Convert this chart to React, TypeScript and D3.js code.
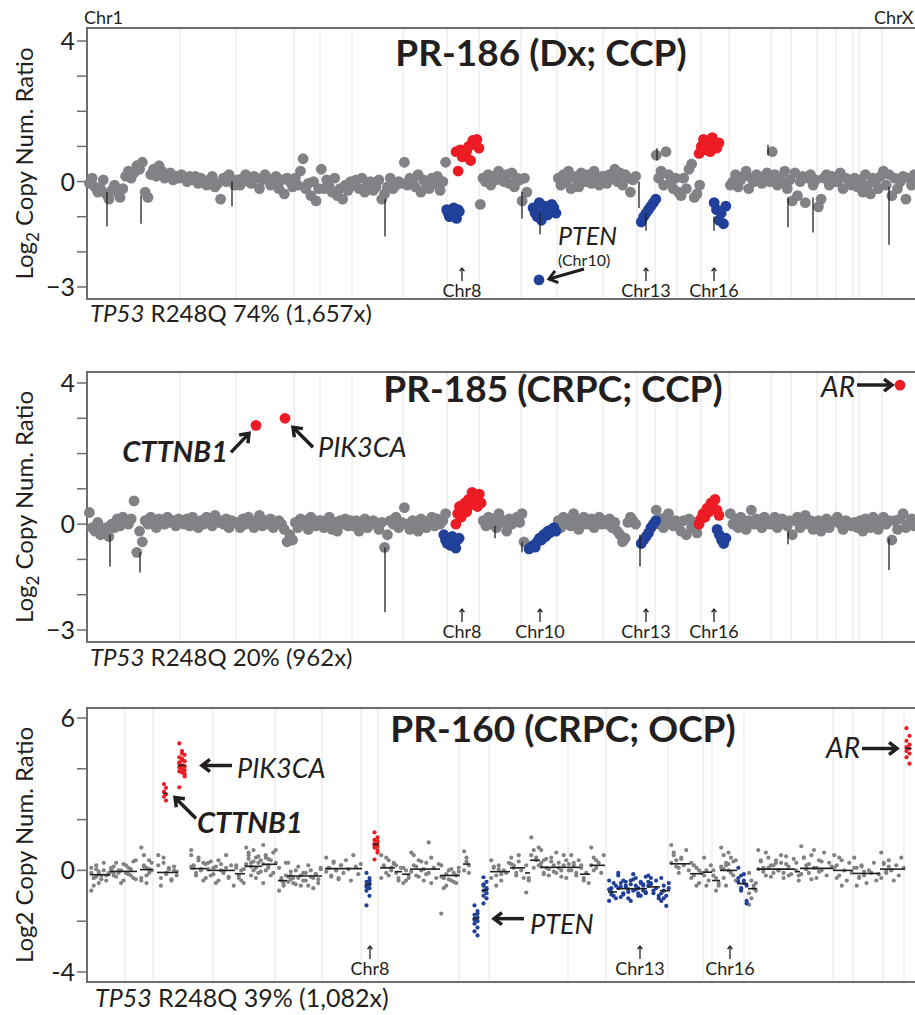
import React from "react";
import * as d3 from "d3";

// probe runs: [startIndex, endIndex, call, log2 values]
type Run = [number, number, string, number[]];
// segments: [startIndex, endIndex, segment mean, call, log2 values]
type Seg = [number, number, number, string, number[]];

// chromosome boundaries in probe-order units
const ccpBounds = [0, 93, 149, 207, 233, 265, 316, 360, 392, 434, 470, 516, 550, 568, 590, 614, 642, 684, 704, 730, 749, 766, 772, 795, 840];
const ocpBounds = [0, 38, 66, 126, 188, 235, 274, 291, 372, 402, 481, 519, 581, 616, 625, 657, 746, 766, 796, 817, 840];

const ccpTicks = [-3, -2, -1, 0, 1, 2, 3, 4];
const ccpTickLabels: [number, string][] = [[4, "4"], [0, "0"], [-3, "\u22123"]];
const ocpTicks = [-4, -2, 0, 2, 4, 6];
const ocpTickLabels: [number, string][] = [[6, "6"], [0, "0"], [-4, "-4"]];

const titles = ["PR-186 (Dx; CCP)", "PR-185 (CRPC; CCP)", "PR-160 (CRPC; OCP)"];
const tp53Text = ["R248Q 74% (1,657x)", "R248Q 20% (962x)", "R248Q 39% (1,082x)"];

const pr186ChrLabels: [string, number][] = [["Chr8", 375], ["Chr13", 559], ["Chr16", 627]];
const pr185ChrLabels: [string, number][] = [["Chr8", 375], ["Chr10", 453], ["Chr13", 559], ["Chr16", 627]];
const pr160ChrLabels: [string, number][] = [["Chr8", 283], ["Chr13", 553], ["Chr16", 643]];

const pr186Runs: Run[] = [
  [1, 93, "n", [-0.05, 0.1, -0.15, -0.3, -0.2, 0.05, -0.35, -0.5, -0.25, -0.1, -0.3, -0.45, -0.2, 0.15, 0.3, 0.1, 0.25, 0.45, 0.35, 0.55, -0.3, -0.45, 0.2, 0.35, 0.15, 0.45, 0.3, 0.1, 0.2, 0.25, 0.05, 0.15, 0.1]],
  [93, 149, "n", [0.2, 0.1, 0.0, 0.15, 0.05, 0.15, -0.05, 0.1, 0.0, -0.1, 0.05, 0.15, -0.15, -0.05, -0.5, 0.1, 0.0, 0.2, 0.05, -0.1]],
  [149, 207, "n", [0.05, -0.1, 0.1, 0.2, 0.0, -0.05, 0.15, 0.1, -0.2, 0.05, 0.2, 0.1, -0.1, 0.0, 0.15, -0.2, 0.05, -0.35, 0.1, 0.0, -0.15]],
  [207, 233, "n", [0.1, -0.1, 0.3, 0.65, -0.2, -0.05, -0.4, 0.0, -0.55, -0.2]],
  [233, 265, "n", [0.35, -0.2, 0.05, -0.15, -0.3, 0.1, -0.4, -0.2, -0.5, -0.1, -0.25, 0.0]],
  [265, 316, "n", [-0.1, 0.05, -0.2, 0.1, -0.3, -0.1, 0.0, -0.25, -0.15, 0.05, -0.5, -0.35, -0.15, 0.1, -0.2, -0.1, 0.0, -0.05]],
  [316, 360, "n", [0.55, -0.1, 0.1, 0.0, -0.15, 0.2, -0.3, 0.05, -0.1, -0.2, 0.1, -0.05, 0.15, -0.25, 0.0, 0.55]],
  [392, 434, "n", [-0.65, 0.1, 0.0, 0.2, -0.1, 0.15, 0.05, 0.3, 0.1, 0.0, 0.2, -0.05, 0.25, -0.15, 0.1, 0.05]],
  [434, 441, "n", [-0.55, 0.1, -0.3]],
  [470, 516, "n", [0.1, -0.1, 0.2, 0.0, 0.3, -0.2, 0.15, 0.05, -0.15, 0.25, 0.1, 0.0, 0.2, -0.05, 0.3, 0.05, -0.1, 0.15]],
  [516, 550, "n", [0.15, -0.05, 0.2, 0.1, 0.35, 0.0, 0.25, -0.1, 0.2, 0.1, -0.3, 0.05, 0.15]],
  [568, 590, "n", [0.75, 0.1, 0.3, -0.1, 0.85, 0.2, 0.0, -0.2, 0.1]],
  [590, 614, "n", [-0.3, -0.4, 0.1, -0.2, 0.35, 0.5, -0.45, -0.35, -0.1]],
  [642, 684, "n", [-0.1, 0.0, 0.2, -0.15, 0.05, 0.15, 0.3, -0.2, 0.1, 0.0, 0.2, 0.1, -0.05, 0.15, 0.25, 0.0]],
  [684, 704, "n", [0.85, 0.2, -0.1, 0.1, 0.0, 0.3, -0.2, 0.05]],
  [704, 730, "n", [-0.55, 0.25, -0.4, 0.0, 0.15, -0.6, 0.1, 0.2, -0.1, 0.05]],
  [730, 749, "n", [-0.72, -0.5, 0.1, 0.2, -0.1, 0.15, 0.0]],
  [749, 766, "n", [0.0, 0.25, -0.2, 0.1, 0.05, -0.1]],
  [766, 772, "n", [0.1, -0.15]],
  [772, 795, "n", [0.05, -0.3, 0.2, -0.1, -0.35, 0.1, 0.0, -0.2, 0.15]],
  [795, 840, "n", [0.3, -0.1, 0.2, -0.4, 0.1, -0.2, 0.0, 0.15, -0.5, 0.1, -0.1, 0.2, -0.05, 0.1, -0.15, 0.05]],
  [359, 373, "loss", [-0.8, -0.9, -1.0, -0.85, -0.95, -0.75, -0.9, -1.05, -0.8, -0.85]],
  [368, 393, "gain", [0.85, 0.3, 0.9, 0.7, 0.75, 0.85, 1.0, 0.6, 1.17, 1.05, 1.2, 0.95]],
  [445, 470, "loss", [-0.75, -0.9, -1.0, -0.6, -1.1, -0.8, -0.7, -0.95, -0.85, -0.65, -0.75, -0.9]],
  [553, 570, "loss", [-1.15, -1.0, -0.9, -0.8, -0.7, -0.6, -0.5]],
  [611, 633, "gain", [0.8, 1.0, 1.2, 0.9, 1.1, 0.85, 1.25, 1.0, 0.95, 1.1]],
  [626, 640, "loss", [-0.6, -0.8, -1.1, -0.9, -1.2, -0.7]],
];
const pr186Focal: [number, number, string][] = [[452, -2.8, "loss"]];
// whiskers: [index, low, high]
const pr186Whiskers: [number, number, number][] = [
  [20, -1.28, -0.3], [54, -1.2, -0.4], [145, -0.7, 0], [298, -1.56, -0.5], [435, -1.05, -0.3], [453, -1.5, -0.9],
  [552, -0.75, 0], [559, -1.4, -0.9], [570, 0.6, 0.95], [627, -1.4, -1.0], [681, 0.75, 1.05], [701, -1.3, -0.45],
  [726, -1.45, -0.45], [802, -1.8, -0.15],
];

const pr185Runs: Run[] = [
  [1, 93, "n", [0.33, -0.1, -0.2, 0.05, -0.3, -0.15, -0.1, -0.35, 0.0, -0.1, 0.15, -0.05, 0.2, 0.1, 0.0, 0.15, 0.66, -0.8, -0.2, -0.5, 0.1, 0.0, 0.2, 0.05, -0.1, 0.15, 0.1, 0.0, 0.2, 0.05, 0.1, -0.05, 0.15]],
  [93, 149, "n", [0.1, 0.0, 0.15, -0.05, 0.2, 0.05, -0.1, 0.1, 0.0, 0.2, 0.15, -0.05, 0.25, 0.05, 0.1, 0.0, 0.15, -0.1, 0.1, 0.05]],
  [149, 207, "n", [0.05, -0.1, 0.15, 0.0, 0.2, 0.05, -0.1, 0.1, 0.25, -0.05, 0.1, 0.0, 0.15, -0.1, 0.05, 0.1, 0.0, -0.15, -0.5, -0.3, -0.45]],
  [207, 233, "n", [0.05, -0.1, 0.15, 0.0, 0.1, -0.15, 0.2, 0.05, -0.05, 0.1]],
  [233, 265, "n", [0.1, -0.1, 0.0, 0.2, -0.15, 0.05, -0.2, 0.1, 0.0, 0.15, -0.05, 0.1]],
  [265, 316, "n", [-0.05, 0.1, -0.2, 0.0, 0.15, -0.1, 0.05, 0.1, 0.0, -0.15, 0.05, -0.66, -0.3, 0.1, 0.0, 0.2, -0.1, 0.05]],
  [316, 360, "n", [0.47, 0.0, -0.15, 0.1, 0.05, -0.2, 0.15, 0.0, -0.1, 0.1, 0.2, -0.05, 0.15, 0.0, 0.1, 0.3]],
  [395, 434, "n", [0.1, -0.05, 0.2, 0.0, 0.15, -0.1, 0.3, 0.05, 0.1, -0.2, 0.15, 0.0, 0.1, 0.2, 0.05]],
  [434, 438, "n", [0.3, -0.5]],
  [470, 516, "n", [0.1, -0.1, 0.2, 0.0, 0.15, -0.05, 0.3, 0.1, -0.15, 0.05, 0.2, 0.0, 0.1, 0.15, -0.1, 0.05, 0.2, 0.0]],
  [516, 550, "n", [0.1, 0.0, 0.15, -0.1, 0.05, -0.2, -0.3, -0.5, -0.4, 0.05, 0.2, 0.1, 0.0]],
  [568, 590, "n", [0.4, 0.0, 0.15, -0.1, 0.2, 0.3, 0.05, -0.05, 0.1]],
  [590, 614, "n", [0.0, -0.2, 0.1, -0.3, 0.15, -0.1, 0.05, -0.25, 0.1]],
  [642, 684, "n", [0.3, 0.0, 0.15, -0.1, 0.2, 0.05, -0.15, 0.1, 0.4, 0.0, 0.15, 0.05, -0.1, 0.2, 0.1, 0.0]],
  [684, 704, "n", [0.1, 0.2, -0.1, 0.0, 0.15, 0.05, -0.05, 0.1]],
  [704, 730, "n", [-0.3, 0.1, 0.2, -0.1, 0.05, 0.25, 0.0, 0.1, -0.15, 0.05]],
  [730, 749, "n", [0.1, -0.2, 0.0, 0.15, -0.1, 0.05, 0.1]],
  [749, 766, "n", [0.2, 0.0, -0.15, 0.1, 0.05, -0.05]],
  [766, 772, "n", [0.05, -0.1]],
  [772, 795, "n", [0.1, -0.2, 0.15, 0.0, -0.1, 0.2, 0.05, -0.15, 0.1]],
  [795, 840, "n", [0.2, 0.0, 0.1, -0.45, 0.1, -0.15, 0.15, 0.3, -0.1, 0.0, 0.15, -0.05, 0.1, 0.2, 0.0, 0.1]],
  [356, 373, "loss", [-0.3, -0.45, -0.55, -0.4, -0.6, -0.35, -0.5, -0.68, -0.45, -0.4]],
  [368, 395, "gain", [0.0, 0.3, 0.5, 0.2, 0.45, 0.6, 0.35, 0.7, 0.55, 0.9, 0.65, 0.8, 0.5, 0.85, 0.6]],
  [441, 470, "loss", [-0.7, -0.65, -0.6, -0.65, -0.5, -0.4, -0.45, -0.3, -0.35, -0.2, -0.25, -0.15, -0.1, -0.2]],
  [553, 570, "loss", [-0.55, -0.45, -0.35, -0.25, -0.1, 0.0, 0.1]],
  [611, 633, "gain", [0.0, 0.15, 0.3, 0.2, 0.45, 0.35, 0.6, 0.5, 0.7, 0.4, 0.25]],
  [629, 640, "loss", [-0.15, -0.3, -0.45, -0.55, -0.4]],
];
const pr185Focal: [number, number, string][] = [[169, 2.8, "gain"], [198, 3.0, "gain"], [813, 3.94, "gain"]];
const pr185Whiskers: [number, number, number][] = [
  [23, -1.2, -0.3], [53, -1.37, -0.8], [298, -2.5, -0.66], [408, -0.4, -0.05], [435, -0.8, -0.5],
  [553, -1.2, -0.3], [701, -0.57, -0.2], [802, -1.3, -0.4],
];

const pr160Segments: Seg[] = [
  [3, 23, -0.17, "n", [-0.1, -0.3, 0.2, -0.5, -0.2, 0.0, -0.4, -0.15, 0.1, -0.6, -0.25, -0.05, -0.35, 0.3, -0.2, -0.1, -0.8, -0.3, 0.05, -0.15]],
  [23, 50, -0.04, "n", [0.1, -0.2, 0.3, -0.1, 0.0, -0.4, 0.2, -0.15, 0.05, -0.3, 0.4, -0.05, 0.15, -0.25, 0.0, -0.5, 0.25, -0.1, 0.1, -0.2, 0.35, -0.35, 0.05, -0.1]],
  [53, 66, 0.03, "n", [0.9, 0.2, -0.2, 0.4, 0.0, -0.4, 0.6, 0.1, -0.1, 0.3, -0.3, 0.15, -0.5, 0.05]],
  [70, 91, -0.08, "n", [0.2, -0.3, 0.5, -0.1, 0.1, -0.4, 0.0, -0.2, 0.6, -0.6, 0.3, -0.15, 0.05, -0.35, 0.15, -0.05]],
  [103, 120, 0.07, "n", [0.8, 0.2, -0.1, 0.4, 0.0, 0.3, -0.3, 0.6, 0.1, -0.2, 0.5, 0.05, -0.4, 0.25, 0.15]],
  [120, 148, 0.0, "n", [0.3, -0.2, 0.1, -0.5, 0.4, 0.0, -0.1, 0.6, -0.3, 0.2, -0.6, 0.05, 0.35, -0.15, 0.15, -0.4, 0.25, -0.05, 0.1, -0.25]],
  [148, 158, -0.13, "n", [0.2, -0.3, 0.0, -0.5, 0.1, -0.2, -0.4, 0.05]],
  [158, 175, 0.16, "n", [0.9, 0.6, 0.3, 0.0, 0.5, -0.1, 0.4, 0.2, 0.7, -0.2, 0.35, 0.1, 0.55, -0.05, 0.25, 0.45, 0.15, 0.8, -0.3, 0.3]],
  [175, 190, 0.24, "n", [1.0, 0.5, 0.2, -0.2, 0.7, 0.3, -0.5, 0.6, 0.1, 0.4, -0.1, 0.8, 0.25, 0.0, 0.45]],
  [191, 200, -0.4, "n", [0.1, -0.3, -0.6, -0.2, -0.8, -0.4, -0.5, 0.3]],
  [200, 235, -0.22, "n", [0.3, -0.2, -0.5, 0.0, -0.3, -0.6, -0.1, -0.4, 0.2, -0.25, -0.7, -0.15, -0.35, 0.1, -0.45, -0.05, -0.3, -0.55, 0.15, -0.2, -0.4, -0.1, -0.6, 0.0, -0.3, -0.15, -0.5, 0.05, -0.25, -0.35]],
  [238, 275, 0.07, "n", [0.5, 0.1, -0.2, 0.3, 0.0, -0.3, 0.2, -0.1, 0.4, 0.05, -0.4, 0.6, 0.15, -0.15, 0.25, -0.05, 0.1, -0.25, 0.35, 0.0, -0.35, 0.2]],
  [293, 308, 0.1, "n", [0.6, 0.2, -0.1, 0.4, 0.0, 0.3, -0.3, 0.15, 0.5, -0.2, 0.1, 0.25]],
  [308, 315, -0.05, "n", [0.2, -0.3, 0.1, -0.1, -0.4]],
  [315, 323, -0.15, "n", [0.1, -0.4, -0.2, -0.5, 0.0, -0.3]],
  [323, 353, 0.05, "n", [0.7, 0.2, -0.2, 0.4, 0.0, -0.4, 0.3, -0.1, 0.5, 0.1, -0.3, 0.25, -0.05, 0.6, 0.15, -0.25, 0.35, 0.05, -0.15, 1.1, -0.5, 0.1]],
  [353, 373, -0.2, "n", [0.2, -0.3, -0.6, 0.0, -0.4, -0.1, -0.5, 0.1, -0.25, -0.7, -0.15, -0.35, 0.05, -0.45, -0.2, -0.05, -1.7, -0.3]],
  [376, 383, 0.25, "n", [0.75, 0.5, 0.2, 0.0, 0.35, -0.1]],
  [403, 423, -0.05, "n", [0.4, 0.1, -0.2, 0.2, -0.4, 0.0, -0.1, 0.3, -0.3, 0.15, -0.6, 0.05, -0.15]],
  [423, 438, 0.1, "n", [0.5, 0.2, -0.1, 0.35, 0.0, -0.3, 0.25, 0.1, -0.2, 0.6]],
  [438, 443, -0.1, "n", [0.2, -0.3, -0.87, -0.4]],
  [443, 453, 0.4, "n", [1.3, 0.8, 0.5, 0.2, 0.6, 0.1, 0.4, 0.9]],
  [453, 483, 0.12, "n", [0.8, 0.4, 0.1, -0.2, 0.5, 0.2, -0.1, 0.3, 0.0, 0.6, -0.3, 0.25, 0.15, -0.15, 0.45, 0.05, 0.35, -0.05, 0.7, 0.1, -0.25, 0.2, 0.4, 0.0, 0.3, -0.1]],
  [483, 493, 0.12, "n", [0.6, 0.2, -0.2, 0.4, 0.0, 0.3, -0.1]],
  [493, 503, -0.15, "n", [0.2, -0.3, -0.1, -0.5, 0.1, -0.4]],
  [503, 518, 0.2, "n", [0.9, 0.5, 0.1, 0.3, -0.1, 0.6, 0.2, 0.0, 0.4]],
  [583, 603, 0.26, "n", [1.0, 0.7, 0.4, 0.1, 0.5, 0.2, 0.8, 0.0, 0.3, 0.6, 0.15, -0.1, 0.45]],
  [603, 616, -0.13, "n", [0.3, -0.2, 0.1, -0.5, -0.1, -0.3, 0.2, -0.6, 0.0]],
  [616, 625, -0.07, "n", [0.5, 0.0, -0.4, 0.2, -0.2, -0.6]],
  [625, 633, -0.4, "n", [0.0, -0.3, -0.6, -0.2, -0.8, -0.5]],
  [633, 650, 0.0, "n", [0.9, 0.6, 0.3, 0.0, 0.5, -0.2, 0.4, 0.1, -0.3, 0.2, 0.7, -0.1, 0.35, -0.4, 0.15, 0.05, -0.6, 0.25]],
  [661, 670, -0.72, "n", [-0.1, -0.4, -0.7, -0.5, -0.9, -1.1, -0.6, -0.8, -1.35]],
  [670, 708, 0.05, "n", [0.8, 0.4, 0.1, -0.2, 0.5, 0.2, -0.1, 0.3, 0.0, 0.6, -0.3, 0.25, 0.15, -0.15, 0.45, 0.05, 0.35, -0.05, 0.7, 0.1, -0.25, 0.2, 0.4, 0.0, 0.3, -0.1, 0.55, -0.2]],
  [708, 713, -0.05, "n", [0.3, -0.2, 0.0, -0.4]],
  [713, 746, 0.08, "n", [0.95, 0.5, 0.2, -0.1, 0.6, 0.1, -0.3, 0.4, 0.0, 0.7, -0.2, 0.3, 0.15, -0.15, 0.5, 0.05, 0.25, -0.35, 0.8, 0.1, -0.05, 0.35]],
  [746, 766, 0.0, "n", [0.6, 0.2, -0.2, 0.4, 0.0, -0.4, 0.3, -0.1, 0.1, -0.3, 0.5, -0.6]],
  [766, 793, -0.12, "n", [0.5, 0.1, -0.3, 0.2, -0.2, -0.5, 0.0, -0.1, 0.3, -0.4, -0.15, 0.1, -0.6, -0.25, 0.15, -0.05]],
  [793, 818, 0.05, "n", [0.7, 0.3, -0.1, 0.4, 0.0, -0.4, 0.2, -0.2, 0.5, 0.1, -0.3, 0.25, -0.05, 0.15]],
  [76, 80, 3.03, "gain", [3.4, 3.25, 3.1, 3.0, 2.9, 2.75]],
  [91, 99, 4.13, "gain", [5.0, 4.7, 4.55, 4.45, 4.35, 4.3, 4.2, 4.15, 4.1, 4.05, 4.0, 3.95, 3.9, 3.85, 3.8, 4.25, 4.4, 3.7, 3.27, 4.6]],
  [278, 284, -0.55, "loss", [-0.1, -0.3, -0.45, -0.55, -0.6, -0.7, -0.8, -0.5, -0.65, -1.0, -1.38, -0.4]],
  [286, 292, 1.02, "gain", [1.5, 1.3, 1.2, 1.1, 1.0, 0.95, 0.9, 0.8, 1.05, 0.7, 0.43, 1.15]],
  [386, 392, -1.9, "loss", [-1.38, -1.6, -1.75, -1.85, -1.9, -2.0, -2.1, -2.25, -2.4, -2.56, -1.95, -1.7]],
  [395, 401, -0.79, "loss", [-0.27, -0.45, -0.6, -0.7, -0.8, -0.9, -1.0, -1.1, -1.3, -0.75, -0.55]],
  [521, 530, -0.85, "loss", [-0.4, -0.7, -1.0, -0.6, -1.2, -0.85, -0.5, -1.1, -0.75, -0.95]],
  [530, 560, -0.72, "loss", [-0.2, -0.5, -0.9, -0.6, -1.1, -0.4, -0.8, -0.3, -0.7, -1.0, -0.55, -0.85, -0.1, -0.65, -0.95, -0.45, -0.75, -1.2, -0.35, -0.6, -0.9, -0.5, -0.8, -0.25, -0.7, -1.05, -0.4, -0.65, -0.85, -0.55, -0.15, -0.75, -1.0, -0.45, -0.6, -0.9]],
  [560, 573, -0.65, "loss", [-0.2, -0.5, -0.9, -0.4, -1.0, -0.6, -0.3, -0.8, -0.7, -1.1, -0.45, -0.55]],
  [573, 583, -0.8, "loss", [-0.3, -0.6, -1.0, -0.5, -1.2, -0.8, -1.4, -0.7, -0.9, -1.1]],
  [650, 661, -0.52, "loss", [0.1, -0.2, -0.4, -0.6, -0.3, -0.8, -0.5, -1.3, -0.45, -0.7, -0.15, -1.2]],
  [818, 824, 4.8, "gain", [5.6, 5.3, 5.1, 4.95, 4.85, 4.8, 4.7, 4.6, 4.45, 4.2]],
];

const GRAY = "#808285";
const RED = "#ed1c24";
const BLUE = "#21409a";
const INK = "#231f20";
const FRAME = "#6d6e71";
const FONT = "Lato, 'Open Sans', sans-serif";

const callColor = (c: string) => (c === "gain" ? RED : c === "loss" ? BLUE : GRAY);

const x = d3.scaleLinear().domain([0, 840]).range([87, 927]);

// probes laid out one after another along the run
const spread = (start: number, end: number, values: number[]) =>
  values.map((v, i) => ({ pos: start + ((i + 0.5) * (end - start)) / values.length, v }));

// amplicons stacked in narrow columns inside a segment
const columns = (start: number, end: number, values: number[]) => {
  const k = Math.max(1, Math.round((end - start) / 2.5));
  return values.map((v, i) => ({ pos: start + (((i % k) + 0.5) * (end - start)) / k, v }));
};

function Arrow({ x1, y1, x2, y2, w = 3.5, head = 10 }: { x1: number; y1: number; x2: number; y2: number; w?: number; head?: number }) {
  const a = Math.atan2(y2 - y1, x2 - x1);
  const s = 0.65;
  const p1 = [x2 - head * Math.cos(a - s), y2 - head * Math.sin(a - s)];
  const p2 = [x2 - head * Math.cos(a + s), y2 - head * Math.sin(a + s)];
  return (
    <g stroke={INK} strokeWidth={w} fill="none">
      <line x1={x1} y1={y1} x2={x2 - Math.cos(a) * w * 0.6} y2={y2 - Math.sin(a) * w * 0.6} />
      <polyline points={`${p1[0]},${p1[1]} ${x2},${y2} ${p2[0]},${p2[1]}`} />
    </g>
  );
}

function Frame({ top, bottom, y, ticks, tickLabels, bounds, sub }: any) {
  const mid = (top + bottom) / 2;
  return (
    <g>
      {bounds.slice(1, -1).map((b: number) => (
        <line key={b} x1={x(b)} x2={x(b)} y1={top} y2={bottom} stroke="#e4e4e4" strokeWidth={1} />
      ))}
      <rect x={87} y={top} width={840} height={bottom - top} fill="none" stroke={FRAME} strokeWidth={2} />
      {ticks.map((t: number) => (
        <line key={t} x1={77} x2={87} y1={y(t)} y2={y(t)} stroke={FRAME} strokeWidth={1.5} />
      ))}
      {tickLabels.map(([t, l]: [number, string]) => (
        <text key={t} x={75} y={y(t)} dy="0.36em" textAnchor="end" fontSize={25} fill={INK} fontFamily={FONT}>
          {l}
        </text>
      ))}
      <text transform={`translate(33,${mid}) rotate(-90)`} textAnchor="middle" fontSize={24} fill={INK} fontFamily={FONT}>
        {sub ? (
          <>
            Log<tspan dy={6} fontSize={17}>2</tspan>
            <tspan dy={-6}> Copy Num. Ratio</tspan>
          </>
        ) : (
          "Log2 Copy Num. Ratio"
        )}
      </text>
    </g>
  );
}

function ChrMarks({ labels, base }: { labels: [string, number][]; base: number }) {
  return (
    <g>
      {labels.map(([l, p]) => (
        <g key={l}>
          <Arrow x1={x(p)} y1={base - 16} x2={x(p)} y2={base - 29} w={1.3} head={4} />
          <text x={x(p)} y={base} textAnchor="middle" fontSize={18} fill={INK} fontFamily={FONT}>
            {l}
          </text>
        </g>
      ))}
    </g>
  );
}

function CcpPoints({ runs, focal, whiskers, y }: { runs: Run[]; focal: [number, number, string][]; whiskers: [number, number, number][]; y: any }) {
  const ordered = [...runs.filter((r) => r[2] === "n"), ...runs.filter((r) => r[2] !== "n")];
  return (
    <g>
      {ordered.map(([s, e, c, vals], i) => (
        <g key={i} fill={callColor(c)}>
          {spread(s, e, vals).map((d, j) => (
            <circle key={j} cx={x(d.pos)} cy={y(d.v)} r={5.4} />
          ))}
        </g>
      ))}
      {whiskers.map(([p, lo, hi], i) => (
        <line key={i} x1={x(p)} x2={x(p)} y1={y(lo)} y2={y(hi)} stroke={INK} strokeWidth={1.3} />
      ))}
      {focal.map(([p, v, c], i) => (
        <circle key={i} cx={x(p)} cy={y(v)} r={5.4} fill={callColor(c)} />
      ))}
    </g>
  );
}

export default function App() {
  const y1 = d3.scaleLinear().domain([-3, 4]).range([287, 41]);
  const y2 = d3.scaleLinear().domain([-3, 4]).range([630, 383]);
  const y3 = d3.scaleLinear().domain([-4, 6]).range([972, 718]);

  const pten186 = pr186Focal[0];
  const [ctt, pik, ar] = pr185Focal;
  const segPos = (s: Seg) => ({ px: x((s[0] + s[1]) / 2), py: y3(s[2]) });
  const find = (s: number, e: number) => pr160Segments.find((d) => d[0] === s && d[1] === e) as Seg;
  const cttB = segPos(find(76, 80));
  const pikB = segPos(find(91, 99));
  const ptenB = segPos(find(386, 392));
  const arB = segPos(find(818, 824));

  const sorted160 = [...pr160Segments.filter((d) => d[3] === "n"), ...pr160Segments.filter((d) => d[3] !== "n")];

  return (
    <svg width={915} height={1015} style={{ position: "absolute", left: 0, top: 0, background: "#fff" }} fontFamily={FONT}>
      <rect width={915} height={1015} fill="#fff" />

      {/* PR-186 */}
      <Frame top={28} bottom={299} y={y1} ticks={ccpTicks} tickLabels={ccpTickLabels} bounds={ccpBounds} sub />
      <CcpPoints runs={pr186Runs} focal={pr186Focal} whiskers={pr186Whiskers} y={y1} />
      <text x={84} y={24} fontSize={18} fill={INK}>Chr1</text>
      <text x={874} y={24} fontSize={18} fill={INK}>ChrX</text>
      <text x={541} y={66} textAnchor="middle" fontSize={37} fontWeight={700} fill={INK}>{titles[0]}</text>
      <ChrMarks labels={pr186ChrLabels} base={297} />
      <text x={x(pten186[0]) + 19} y={y1(pten186[1]) - 35} fontSize={25} fontStyle="italic" fill={INK}>PTEN</text>
      <text x={x(pten186[0]) + 19} y={y1(pten186[1]) - 14} fontSize={16} fill={INK}>(Chr10)</text>
      <Arrow x1={x(pten186[0]) + 45} y1={y1(pten186[1]) - 11} x2={x(pten186[0]) + 10} y2={y1(pten186[1]) - 1} w={3} head={10} />
      <text x={90} y={322} fontSize={24} fill={INK}>
        <tspan fontStyle="italic">TP53</tspan> {tp53Text[0]}
      </text>

      {/* PR-185 */}
      <Frame top={372} bottom={642} y={y2} ticks={ccpTicks} tickLabels={ccpTickLabels} bounds={ccpBounds} sub />
      <CcpPoints runs={pr185Runs} focal={pr185Focal} whiskers={pr185Whiskers} y={y2} />
      <text x={553} y={402} textAnchor="middle" fontSize={37} fontWeight={700} fill={INK}>{titles[1]}</text>
      <ChrMarks labels={pr185ChrLabels} base={638} />
      <text x={x(ctt[0]) - 28} y={y2(ctt[1]) + 37} textAnchor="end" fontSize={29} fontWeight={700} fontStyle="italic" fill={INK}>CTTNB1</text>
      <Arrow x1={x(ctt[0]) - 25} y1={y2(ctt[1]) + 27} x2={x(ctt[0]) - 7} y2={y2(ctt[1]) + 8} />
      <text x={x(pik[0]) + 33} y={y2(pik[1]) + 39} fontSize={27} fontStyle="italic" fill={INK}>PIK3CA</text>
      <Arrow x1={x(pik[0]) + 28} y1={y2(pik[1]) + 29} x2={x(pik[0]) + 8} y2={y2(pik[1]) + 9} />
      <text x={x(ar[0]) - 45} y={y2(ar[1]) + 12} textAnchor="end" fontSize={28} fontStyle="italic" fill={INK}>AR</text>
      <Arrow x1={x(ar[0]) - 43} y1={y2(ar[1])} x2={x(ar[0]) - 8} y2={y2(ar[1])} />
      <text x={90} y={666} fontSize={24} fill={INK}>
        <tspan fontStyle="italic">TP53</tspan> {tp53Text[1]}
      </text>

      {/* PR-160 */}
      <Frame top={708} bottom={982} y={y3} ticks={ocpTicks} tickLabels={ocpTickLabels} bounds={ocpBounds} sub={false} />
      <g>
        {sorted160.map(([s, e, m, c, vals], i) => (
          <g key={i} fill={callColor(c)}>
            {columns(s, e, vals).map((d, j) => (
              <circle key={j} cx={x(d.pos)} cy={y3(d.v)} r={2.1} />
            ))}
          </g>
        ))}
        {sorted160.map(([s, e, m], i) => (
          <line key={i} x1={x(s)} x2={x(e)} y1={y3(m)} y2={y3(m)} stroke={INK} strokeWidth={1.6} />
        ))}
      </g>
      <text x={563} y={742} textAnchor="middle" fontSize={37} fontWeight={700} fill={INK}>{titles[2]}</text>
      <ChrMarks labels={pr160ChrLabels} base={975} />
      <text x={pikB.px + 55} y={pikB.py + 13} fontSize={27} fontStyle="italic" fill={INK}>PIK3CA</text>
      <Arrow x1={pikB.px + 50} y1={pikB.py} x2={pikB.px + 20} y2={pikB.py} />
      <text x={cttB.px + 32} y={cttB.py + 40} fontSize={29} fontWeight={700} fontStyle="italic" fill={INK}>CTTNB1</text>
      <Arrow x1={cttB.px + 31} y1={cttB.py + 25} x2={cttB.px + 10} y2={cttB.py + 4} />
      <text x={ptenB.px + 54} y={ptenB.py + 15} fontSize={27} fontStyle="italic" fill={INK}>PTEN</text>
      <Arrow x1={ptenB.px + 48} y1={ptenB.py} x2={ptenB.px + 18} y2={ptenB.py} />
      <text x={arB.px - 48} y={arB.py + 10} textAnchor="end" fontSize={28} fontStyle="italic" fill={INK}>AR</text>
      <Arrow x1={arB.px - 46} y1={arB.py} x2={arB.px - 11} y2={arB.py} />
      <text x={95} y={1007} fontSize={25} fill={INK}>
        <tspan fontStyle="italic">TP53</tspan> {tp53Text[2]}
      </text>
    </svg>
  );
}
